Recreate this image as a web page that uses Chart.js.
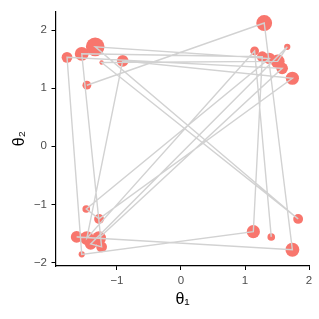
<!DOCTYPE html>
<html>
<head>
<meta charset="utf-8">
<script src="https://cdn.jsdelivr.net/npm/chart.js@4/dist/chart.umd.min.js"></script>
<style>
  html, body { margin: 0; padding: 0; background: #fff; }
  #wrap { width: 319px; height: 319px; }
</style>
</head>
<body>
<div id="wrap"><canvas id="pathChart"></canvas></div>
<script>
// Sample path, in visiting order
const theta1 = [-1.47, 1.30, 1.74, -1.63, -1.28, 1.58, -1.78, -1.55, 1.13, 1.27, -1.55, -1.24, -1.41,
  1.66, 1.51, -1.24, 1.83, -1.34, 1.38, -1.48, -1.28, 1.74, -0.91, -1.47, 1.15, 1.41];
const theta2 = [1.05, 2.12, -1.78, -1.56, -1.58, 1.34, 1.53, -1.86, -1.47, 1.54, 1.59, -1.73, -1.68,
  1.71, 1.46, 1.44, -1.25, 1.71, 1.51, -1.08, -1.25, 1.17, 1.47, -1.58, 1.64, -1.56];
// weight of each sample (point area)
const weight = [4, 13, 10, 7, 10, 7, 6, 2, 9, 6, 10, 6, 7, 2, 10, 1, 5, 18, 7, 3, 5, 9, 7, 10, 4, 3];

const xTicks = [-1, 0, 1, 2];
const yTicks = [-2, -1, 0, 1, 2];

const pts = theta1.map((v, i) => ({ x: v, y: theta2[i] }));
const radii = weight.map(w => 2.2 * Math.sqrt(w));
const fmt = v => (v < 0 ? "\u2212" + Math.abs(v) : String(v));

Chart.defaults.font.family = "'Liberation Sans', Arial, sans-serif";
Chart.defaults.animation = false;

const ctx = document.getElementById("pathChart").getContext("2d");
new Chart(ctx, {
  type: "scatter",
  data: {
    datasets: [
      {
        // path drawn over the points
        data: pts,
        showLine: true,
        borderColor: "#d2d2d2",
        borderWidth: 1.4,
        pointRadius: 0,
        pointHoverRadius: 0,
      },
      {
        data: pts,
        backgroundColor: "#F8766D",
        borderWidth: 0,
        pointRadius: radii,
        pointHoverRadius: radii,
      },
    ],
  },
  options: {
    responsive: true,
    maintainAspectRatio: false,
    layout: { padding: { left: 0, right: 9, top: 8, bottom: 0 } },
    plugins: { legend: { display: false }, tooltip: { enabled: false } },
    scales: {
      x: {
        type: "linear",
        min: -1.96,
        max: 2.01,
        afterBuildTicks: s => { s.ticks = xTicks.map(v => ({ value: v })); },
        afterFit: s => { s.height = 53; },
        ticks: { color: "#4d4d4d", font: { size: 11.5 }, padding: 4, callback: fmt },
        grid: { drawOnChartArea: false, color: "#000", tickLength: 4, tickWidth: 1 },
        border: { display: true, color: "#000", width: 1.2 },
        title: { display: true, text: "\u03b8\u2081", color: "#000", font: { size: 16 }, padding: { top: 0, bottom: 10 } },
      },
      y: {
        type: "linear",
        min: -2.06,
        max: 2.32,
        afterBuildTicks: s => { s.ticks = yTicks.map(v => ({ value: v })); },
        afterFit: s => { s.width = 55.5; },
        ticks: { color: "#4d4d4d", font: { size: 11.5 }, padding: 4.5, callback: fmt },
        grid: { drawOnChartArea: false, color: "#000", tickLength: 4, tickWidth: 1 },
        border: { display: true, color: "#000", width: 1.2 },
        title: { display: true, text: "\u03b8\u2082", color: "#000", font: { size: 16 }, padding: { top: 10, bottom: 0 } },
      },
    },
  },
});
</script>
</body>
</html>
